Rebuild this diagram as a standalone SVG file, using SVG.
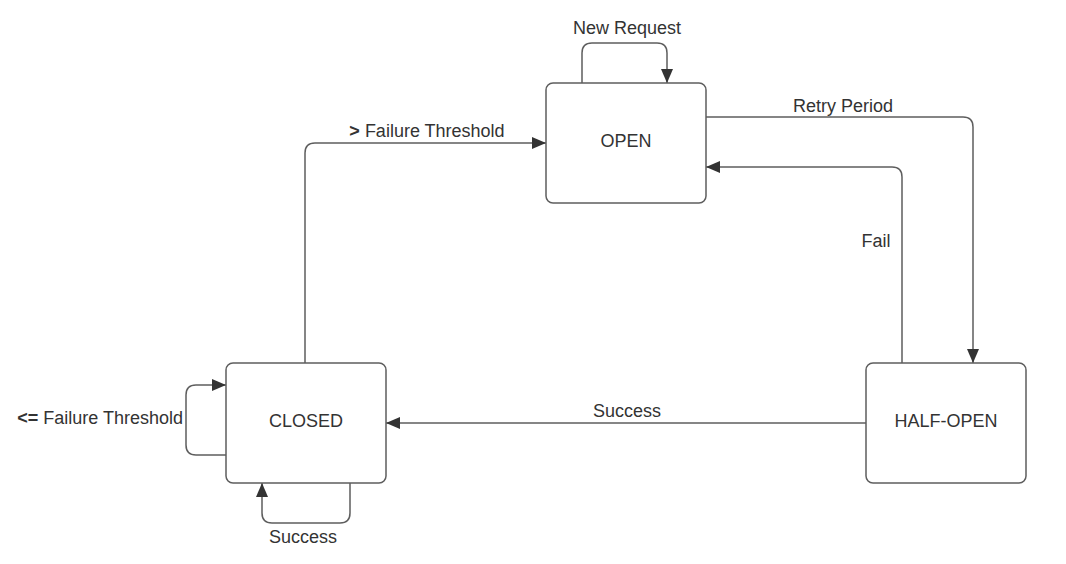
<svg xmlns="http://www.w3.org/2000/svg" width="1066" height="564" viewBox="0 0 1066 564">
<style>
.node rect{fill:#fff;stroke:#5e5e5e;stroke-width:1.5}
.node text{font-family:"Liberation Sans",Arial,sans-serif;font-size:18px;fill:#333;text-anchor:middle}
.edge path{fill:none;stroke:#5e5e5e;stroke-width:1.5}
.lbl{font-family:"Liberation Sans",Arial,sans-serif;font-size:18px;fill:#333}
</style>
<defs>
<marker id="ah" viewBox="0 0 14 12" refX="14" refY="6" markerWidth="14" markerHeight="12" markerUnits="userSpaceOnUse" orient="auto">
<path d="M0,0 L14,6 L0,12 Z" fill="#333"/>
</marker>
</defs>
<rect width="1066" height="564" fill="#fff"/>
<g id="connectors" class="edge">
<path d="M582,83 V53 Q582,43 592,43 H657 Q667,43 667,53 V83" marker-end="url(#ah)"/>
<path d="M706,117 H963 Q973,117 973,127 V363" marker-end="url(#ah)"/>
<path d="M902,363 V177 Q902,167 892,167 H706" marker-end="url(#ah)"/>
<path d="M305,363 V153 Q305,143 315,143 H546" marker-end="url(#ah)"/>
<path d="M866,423 H386" marker-end="url(#ah)"/>
<path d="M226,455 H196 Q186,455 186,445 V395 Q186,385 196,385 H226" marker-end="url(#ah)"/>
<path d="M350,483 V513 Q350,523 340,523 H272 Q262,523 262,513 V483" marker-end="url(#ah)"/>
</g>
<g id="labels" class="lbl">
<text x="627" y="34" text-anchor="middle">New Request</text>
<text x="843" y="112" text-anchor="middle">Retry Period</text>
<text x="876" y="247" text-anchor="middle">Fail</text>
<text x="427" y="137" text-anchor="middle"><tspan font-weight="bold">&gt;</tspan> Failure Threshold</text>
<text x="627" y="417" text-anchor="middle">Success</text>
<text x="183" y="424" text-anchor="end"><tspan font-weight="bold">&lt;=</tspan> Failure Threshold</text>
<text x="303" y="543" text-anchor="middle">Success</text>
</g>
<g id="open" class="node">
<rect x="546" y="83" width="160" height="120" rx="7"/>
<text x="626" y="147">OPEN</text>
</g>
<g id="closed" class="node">
<rect x="226" y="363" width="160" height="120" rx="7"/>
<text x="306" y="427">CLOSED</text>
</g>
<g id="half-open" class="node">
<rect x="866" y="363" width="160" height="120" rx="7"/>
<text x="946" y="427">HALF-OPEN</text>
</g>
</svg>
